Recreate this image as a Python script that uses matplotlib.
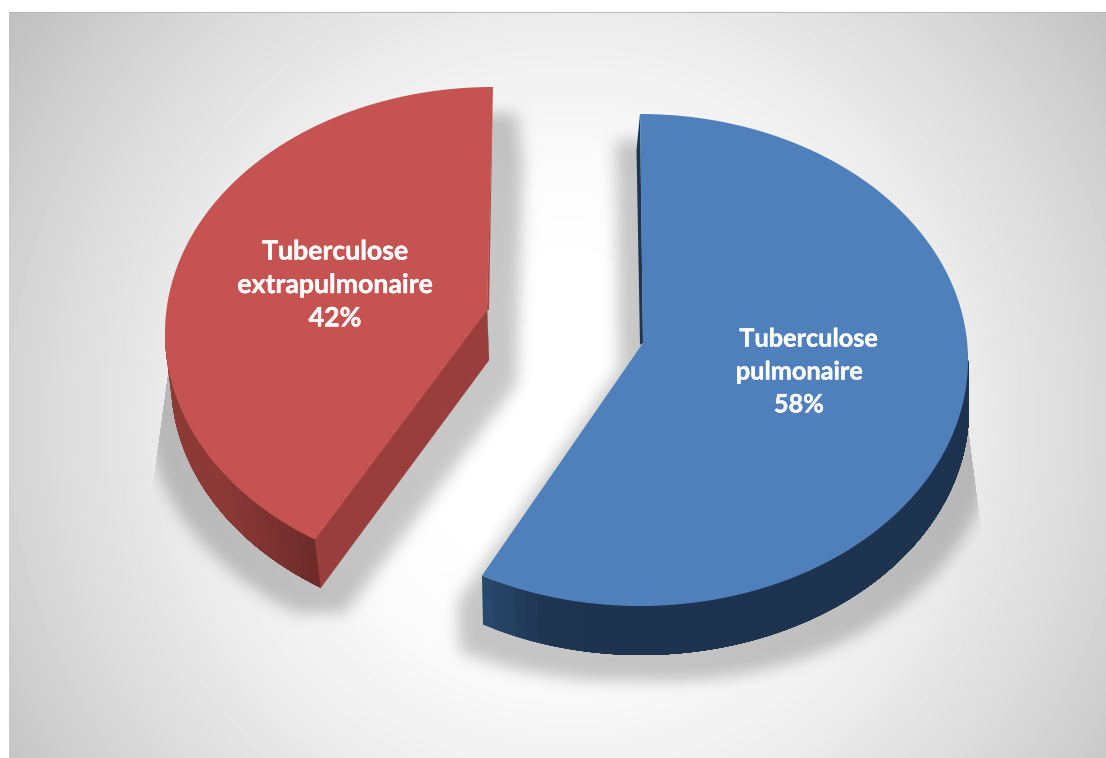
import numpy as np
import matplotlib
matplotlib.use("Agg")
import matplotlib.pyplot as plt
import matplotlib.patheffects as pe
from matplotlib.path import Path
from matplotlib.patches import Polygon
from matplotlib.colors import to_rgb

categories = ["   Tuberculose\npulmonaire", "Tuberculose\nextrapulmonaire"]
values = [58, 42]

W, H = 1106, 758
A, B = 328, 246  # pie semi-axes on screen

blue_top, blue_cut = "#4F80BC", "#1F3550"
blue_side = ["#28496B", "#1F3552", "#1E3350", "#1E3350"]
red_top, red_cut, red_sliver = "#C55351", "#993E3C", "#A94543"
red_side = ["#8C3A38", "#8C3A38", "#7C3230", "#6B2A2A"]


def arc(t0, t1, cx, cy, n=200):
    t = np.radians(np.linspace(t0, t1, n))
    return np.column_stack([cx + A * np.sin(t), cy - B * np.cos(t)])


split = 360 * values[0] / sum(values)
blue_arc = arc(0, split, 640, 360)
red_arc = arc(split + 4.1, 360, 493, 333)
blue_apex = np.array([[643, 343]])
red_apex = np.array([[487, 310]])
blue_off = np.array([1, 49])
red_off = np.array([6, 48])
blue_face = np.vstack([blue_apex, blue_arc])
red_face = np.vstack([red_apex, red_arc])


def mask_of(poly, xx, yy):
    pts = np.column_stack([xx.ravel(), yy.ravel()])
    return Path(poly).contains_points(pts).reshape(xx.shape).astype(float)


def box(a, r, axis):
    k = 2 * r + 1
    pad = [(0, 0), (0, 0)]
    pad[axis] = (r + 1, r)
    c = np.cumsum(np.pad(a, pad, mode="edge"), axis=axis)
    n = c.shape[axis]
    return (np.take(c, range(k, n), axis=axis) - np.take(c, range(0, n - k), axis=axis)) / k


def blur(a, r):
    for _ in range(3):
        a = box(box(a, r, 0), r, 1)
    return a


def soft_shadow(face, arc_pts, off, clip):
    m = mask_of(face, xx, yy)
    m = np.maximum(m, mask_of(np.vstack([arc_pts, (arc_pts + off)[::-1]]), xx, yy))
    m = np.maximum(m, mask_of(np.vstack([face[:1], arc_pts[:1], (arc_pts + off)[:1], face[:1] + off]), xx, yy))
    m = np.maximum(m, mask_of(np.vstack([face[:1], arc_pts[-1:], (arc_pts + off)[-1:], face[:1] + off]), xx, yy))
    m = (box(m, 24, 1) > 0.005).astype(float)
    m = np.roll(m, 26, axis=0)
    m[:26] = 0
    return blur(m, 7) * clip


yy, xx = np.mgrid[0:H, 0:W] + 0.5
r = np.hypot((xx - 570) / 550, (yy - 420) / 560)
bg = np.interp(r, [0, 0.25, 0.45, 0.7, 1.0, 1.25], [1, 1, 0.985, 0.93, 0.84, 0.75])

clip_red = (xx > 168 - (yy - 373) * 15 / 110) & ((yy > 365) | (xx > 300))
clip_blue = (xx < 965 + (yy - 403) * 15 / 117) & ((yy > 400) | (xx < 800))
sh_red = soft_shadow(red_face, red_arc, red_off, clip_red)
sh_blue = soft_shadow(blue_face, blue_arc, blue_off, clip_blue)
bg = bg * (1 - 0.22 * np.maximum(sh_red, sh_blue))
bg[12:13, 9:] = 0.72
bg[:12, :] = 1
bg[:, :9] = 1

fig = plt.figure(figsize=(W / 100, H / 100), dpi=100)
ax = fig.add_axes([0, 0, 1, 1])
ax.set_xlim(0, W)
ax.set_ylim(H, 0)
ax.axis("off")
ax.imshow(bg, cmap="gray", vmin=0, vmax=1, extent=(0, W, H, 0), aspect="auto",
          interpolation="bilinear", zorder=0)


def curved_side(arc_pts, off, stops, x0, x1):
    """Paint the visible wall front to back so strips leave no seams."""
    rgb = np.array([to_rgb(c) for c in stops])
    for i in range(0, len(arc_pts) - 1, 2):
        rest = arc_pts[i:]
        f = np.clip((arc_pts[i, 0] - x0) / (x1 - x0), 0, 1)
        col = [np.interp(f, np.linspace(0, 1, len(stops)), rgb[:, c]) for c in range(3)]
        ax.add_patch(Polygon(np.vstack([rest, (rest + off)[::-1]]), fc=col, ec="none", zorder=2))


# red slice: wall visible from the cut round to the leftmost point
red_wall = red_arc[red_arc[:, 1] > 325]
curved_side(red_wall[::-1], red_off, red_side, 165, 316)
tip = red_arc[0]
ax.add_patch(Polygon([red_apex[0], tip, tip + red_off, red_apex[0] + [2, 50]],
                     fc=red_cut, ec=red_cut, lw=0.3, zorder=3))
ax.add_patch(Polygon([red_arc[-1], [489, 310], red_apex[0]], fc=red_sliver, ec="none", zorder=3))
ax.add_patch(Polygon(red_face, fc=red_top, ec="none", zorder=4))

# blue slice: wall visible from the rightmost point round to the cut
blue_wall = blue_arc[blue_arc[:, 1] > 350]
curved_side(blue_wall[::-1], blue_off, blue_side, 482, 640)
ax.add_patch(Polygon([blue_arc[0], [636.5, 150], [640, 345], blue_apex[0]], fc=blue_cut, ec="none", zorder=3))
ax.add_patch(Polygon(blue_face, fc=blue_top, ec="none", zorder=4))

positions = [(799, 372), (335, 285)]
sizes = [18.2, 19.2]
spacings = [1.52, 1.47]
for cat, val, (x, y), fs, ls in zip(categories, values, positions, sizes, spacings):
    ax.text(x, y, f"{cat}\n{val}%", color="white", family=["Lato", "DejaVu Sans"],
            fontweight="bold", fontsize=fs, ha="center", va="center",
            linespacing=ls, zorder=5,
            path_effects=[pe.withStroke(linewidth=0.3, foreground="white")])

fig.savefig("out.png", dpi=100)
